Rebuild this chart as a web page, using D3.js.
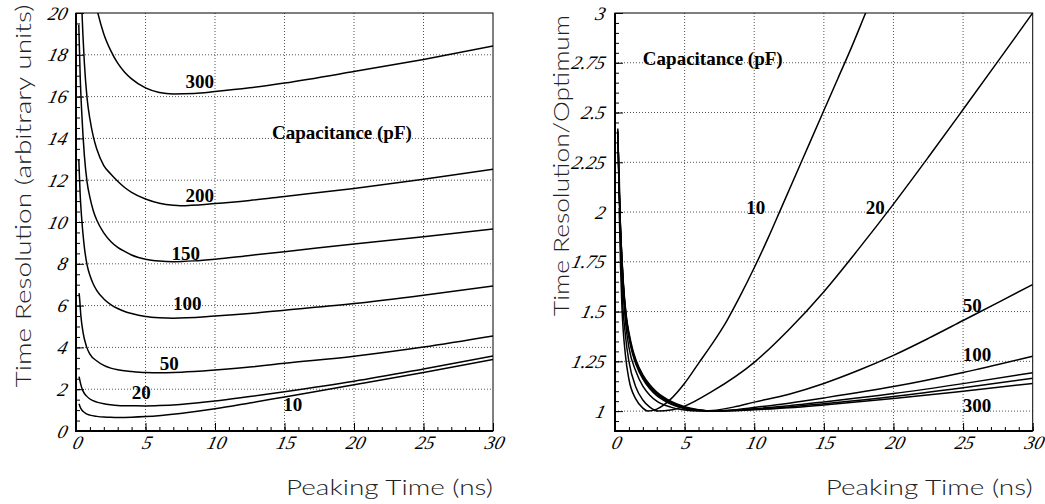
<!DOCTYPE html>
<html>
<head>
<meta charset="utf-8">
<script src="https://cdn.jsdelivr.net/npm/d3@7"></script>
<style>
  body { margin: 0; background: #fff; }
  svg { display: block; }
  .tick text { font-family: "Liberation Serif", "Times New Roman", serif; font-style: italic; font-size: 19px; fill: #000; }
  .tick line { stroke: #000; stroke-width: 1; }
  .grid line { stroke: #555; stroke-width: 1; stroke-dasharray: 1,2; }
  .curve { fill: none; stroke: #000; stroke-width: 1.5; }
  .lbl { font-family: "Liberation Serif", "Times New Roman", serif; font-weight: bold; font-size: 19px; fill: #000; }
  .title { font-family: Lato, "Open Sans", sans-serif; font-weight: 300; font-size: 22px; fill: #222; }
</style>
</head>
<body>
<div id="chart"></div>
<script>
// peaking time ticks (ns)
const xMajor = [0, 5, 10, 15, 20, 25, 30];
const xMinor = d3.range(0, 31, 1);

// left panel: time resolution (arbitrary units), one array per capacitance
const abs10  = [[0.22,1.3],[0.3,1.15],[0.4,1.02],[0.5,0.94],[0.75,0.82],[1,0.76],[1.5,0.7],[2,0.665],[2.5,0.652],[3,0.65],[4,0.66],[5,0.69],[7.5,0.84],[10,1.06],[12.5,1.34],[15,1.63],[20,2.21],[25,2.8],[30,3.42]];
const abs20  = [[0.22,2.6],[0.3,2.35],[0.4,2.1],[0.5,1.92],[0.75,1.68],[1,1.53],[1.5,1.38],[2,1.3],[2.5,1.255],[3,1.225],[4,1.205],[5,1.2],[6,1.215],[7.5,1.27],[10,1.43],[12.5,1.65],[15,1.88],[20,2.38],[25,2.97],[30,3.59]];
const abs50  = [[0.22,6.6],[0.25,6.42],[0.35,5.52],[0.5,4.74],[0.75,4.05],[1,3.68],[1.5,3.35],[2,3.14],[2.5,3.01],[3,2.93],[4,2.85],[5,2.8],[6,2.79],[7,2.8],[8.5,2.85],[10,2.92],[12.5,3.06],[15,3.24],[20,3.58],[25,4.02],[30,4.55]];
const abs100 = [[0.2,13.0],[0.3,11.3],[0.4,10.25],[0.5,9.45],[0.6,8.8],[0.8,7.94],[1,7.45],[1.25,7.02],[1.5,6.72],[2,6.32],[2.5,6.05],[3,5.86],[3.5,5.72],[4,5.62],[5,5.48],[6,5.42],[7,5.4],[10,5.5],[12.5,5.62],[15,5.78],[20,6.1],[25,6.5],[30,6.94]];
const abs150 = [[0.2,19.44],[0.3,17.0],[0.4,15.4],[0.5,14.18],[0.6,13.2],[0.8,11.9],[1,11.18],[1.25,10.53],[1.5,10.08],[2,9.48],[2.5,9.07],[3,8.79],[3.5,8.59],[4,8.42],[5,8.22],[6,8.13],[7,8.1],[8.5,8.14],[10,8.22],[12.5,8.4],[15,8.58],[20,8.95],[25,9.3],[30,9.66]];
const abs200 = [[0.4,20.5],[0.5,18.92],[0.6,17.63],[0.8,15.9],[1,14.93],[1.25,14.07],[1.5,13.48],[2,12.7],[2.5,12.3],[3,11.95],[3.5,11.65],[4,11.42],[5,11.1],[6,10.9],[7,10.8],[7.5,10.78],[10,10.88],[12.5,11.03],[15,11.22],[20,11.6],[25,12.04],[30,12.52]];
const abs300 = [[1.4,20.5],[1.5,20.2],[2,19.0],[2.5,18.2],[3,17.6],[3.5,17.17],[4,16.85],[5,16.42],[6,16.2],[7,16.13],[8.5,16.15],[10,16.24],[12.5,16.42],[15,16.65],[20,17.2],[25,17.78],[30,18.42]];

// right panel: time resolution / optimum
const rel10  = [[0.3,2.02],[0.4,1.72],[0.5,1.52],[0.75,1.28],[1,1.16],[1.5,1.06],[2,1.015],[2.4,1.0],[3,1.01],[4,1.06],[5,1.14],[6,1.24],[7,1.34],[8,1.45],[9,1.58],[10,1.72],[11,1.87],[12,2.03],[13,2.19],[14,2.35],[15,2.51],[16,2.67],[17,2.83],[18,3.0],[19,3.17]];
const rel20  = [[0.3,2.2],[0.4,1.85],[0.5,1.62],[0.75,1.38],[1,1.25],[1.5,1.12],[2,1.056],[2.5,1.02],[3.1,1.0],[4,1.005],[5,1.025],[7,1.1],[10,1.245],[12.5,1.41],[15,1.6],[17.5,1.815],[20,2.04],[22.5,2.275],[25,2.515],[27.5,2.757],[30,3.0]];
const rel50  = [[0.25,2.3],[0.35,1.98],[0.5,1.7],[0.75,1.45],[1,1.32],[1.5,1.2],[2,1.125],[2.5,1.08],[3,1.05],[4,1.02],[5,1.005],[6,1.0],[7,1.003],[8.5,1.02],[10,1.045],[12.5,1.085],[15,1.139],[17.5,1.205],[20,1.28],[22.5,1.365],[25,1.455],[27.5,1.545],[30,1.636]];
const rel100 = [[0.2,2.39],[0.3,2.09],[0.4,1.89],[0.5,1.74],[0.6,1.62],[0.8,1.46],[1,1.37],[1.25,1.29],[1.5,1.236],[2,1.162],[2.5,1.112],[3,1.078],[3.5,1.054],[4,1.035],[5,1.012],[6,1.003],[7,1.0],[8.5,1.006],[10,1.018],[12.5,1.04],[15,1.066],[20,1.123],[25,1.194],[30,1.276]];
const rel150 = [[0.2,2.4],[0.3,2.1],[0.4,1.9],[0.5,1.75],[0.6,1.63],[0.8,1.47],[1,1.38],[1.25,1.3],[1.5,1.245],[2,1.17],[2.5,1.12],[3,1.085],[3.5,1.06],[4,1.04],[5,1.015],[6,1.004],[7,1.0],[8.5,1.004],[10,1.012],[12.5,1.027],[15,1.046],[20,1.088],[25,1.138],[30,1.193]];
const rel200 = [[0.2,2.41],[0.3,2.11],[0.4,1.905],[0.5,1.755],[0.6,1.635],[0.8,1.475],[1,1.385],[1.25,1.305],[1.5,1.25],[2,1.175],[2.5,1.125],[3,1.09],[3.5,1.065],[4,1.045],[5,1.018],[6,1.005],[7,1.0],[8.5,1.003],[10,1.009],[12.5,1.021],[15,1.037],[20,1.073],[25,1.117],[30,1.165]];
const rel300 = [[0.2,2.42],[0.3,2.12],[0.4,1.915],[0.5,1.765],[0.6,1.645],[0.8,1.485],[1,1.395],[1.25,1.315],[1.5,1.258],[2,1.182],[2.5,1.132],[3,1.096],[3.5,1.07],[4,1.05],[5,1.022],[6,1.007],[7,1.0],[8.5,1.002],[10,1.007],[12.5,1.017],[15,1.031],[20,1.063],[25,1.1],[30,1.139]];

// curve labels: [text, x, y] in data units
const absLabels = [["300",8.9,16.7],["200",8.9,11.29],["150",7.9,8.47],["100",8.0,6.12],["50",6.7,3.25],["20",4.7,1.82],["10",15.6,1.29]];
const relLabels = [["10",10.1,2.025],["20",18.7,2.025],["50",25.65,1.533],["100",26.0,1.282],["300",26.0,1.03]];

const W = 1045, H = 504;
const svg = d3.select("#chart").append("svg").attr("width", W).attr("height", H);

// slant the tick numbers around their own baseline
const slant = Math.tan(14 * Math.PI / 180);
function italicize(sel, base) {
  sel.selectAll(".tick text")
    .attr("font-style", "normal")
    .attr("transform", `translate(${slant * base},0) skewX(-14)`);
}

function panel(cfg) {
  const x = d3.scaleLinear().domain([0, 30]).range([cfg.x0, cfg.x1]);
  const y = d3.scaleLinear().domain(cfg.yDomain).range([431, 13]);
  const g = svg.append("g");

  // dotted grid
  const grid = g.append("g").attr("class", "grid");
  grid.selectAll(".gx").data(xMajor.slice(1, -1)).join("line")
    .attr("x1", d => x(d)).attr("x2", d => x(d)).attr("y1", y.range()[0]).attr("y2", y.range()[1]);
  grid.selectAll(".gy").data(cfg.yGrid).join("line")
    .attr("x1", x.range()[0]).attr("x2", x.range()[1]).attr("y1", d => y(d)).attr("y2", d => y(d));

  // ticks inside the frame
  g.append("g").attr("transform", `translate(0,${y.range()[0]})`)
    .call(d3.axisBottom(x).tickValues(xMinor).tickSizeInner(-4).tickSizeOuter(0).tickFormat(""))
    .call(a => a.select(".domain").remove());
  g.append("g").attr("transform", `translate(0,${y.range()[0]})`)
    .call(d3.axisBottom(x).tickValues(xMajor).tickSizeInner(-8).tickSizeOuter(0).tickPadding(5).tickFormat(d => String(d)))
    .call(a => a.select(".domain").remove())
    .call(a => italicize(a, 5 + 0.71 * 19));
  g.append("g").attr("transform", `translate(${x.range()[0]},0)`)
    .call(d3.axisLeft(y).tickValues(cfg.yMinor).tickSizeInner(-4).tickSizeOuter(0).tickFormat(""))
    .call(a => a.select(".domain").remove());
  g.append("g").attr("transform", `translate(${x.range()[0]},0)`)
    .call(d3.axisLeft(y).tickValues(cfg.yMajor).tickSizeInner(-8).tickSizeOuter(0).tickPadding(cfg.yPad).tickFormat(d => String(d)))
    .call(a => a.select(".domain").remove())
    .call(a => italicize(a, 0.32 * 19));

  // curves, clipped to the frame
  svg.append("clipPath").attr("id", cfg.id).append("rect")
    .attr("x", x.range()[0]).attr("y", y.range()[1])
    .attr("width", x.range()[1] - x.range()[0]).attr("height", y.range()[0] - y.range()[1]);
  const line = d3.line().x(d => x(d[0])).y(d => y(d[1])).curve(d3.curveMonotoneX);
  g.append("g").attr("clip-path", `url(#${cfg.id})`)
    .selectAll("path").data(cfg.series).join("path")
    .attr("class", "curve").attr("d", line);

  // frame
  g.append("rect").attr("x", x.range()[0]).attr("y", y.range()[1])
    .attr("width", x.range()[1] - x.range()[0]).attr("height", y.range()[0] - y.range()[1])
    .attr("fill", "none").attr("stroke", "#000").attr("stroke-width", 1);
  g.append("path")
    .attr("d", `M${x.range()[0]},${y.range()[1]}V${y.range()[0]}H${x.range()[1]}`)
    .attr("fill", "none").attr("stroke", "#000").attr("stroke-width", 2);

  // curve labels
  g.selectAll(".lbl").data(cfg.labels).join("text")
    .attr("class", "lbl").attr("x", d => x(d[1])).attr("y", d => y(d[2]))
    .attr("text-anchor", "middle").attr("dominant-baseline", "central").text(d => d[0]);
  g.append("text").attr("class", "lbl")
    .attr("x", x(cfg.capPos[0])).attr("y", y(cfg.capPos[1]))
    .attr("dominant-baseline", "central").text("Capacitance (pF)");

  // axis titles
  g.append("text").attr("class", "title")
    .attr("x", x.range()[1]).attr("y", 495).attr("text-anchor", "end")
    .attr("textLength", 207).attr("lengthAdjust", "spacingAndGlyphs")
    .text("Peaking Time (ns)");
  g.append("text").attr("class", "title")
    .attr("transform", `translate(${cfg.titleX},${cfg.titleY}) rotate(-90)`)
    .attr("text-anchor", "middle")
    .attr("textLength", cfg.titleLen).attr("lengthAdjust", "spacingAndGlyphs")
    .text(cfg.title);
}

panel({
  id: "clipL", x0: 76, x1: 493, yDomain: [0, 20],
  yMajor: d3.range(0, 21, 2), yMinor: d3.range(0, 20.01, 0.5), yGrid: d3.range(2, 19, 2), yPad: 10,
  series: [abs10, abs20, abs50, abs100, abs150, abs200, abs300],
  labels: absLabels, capPos: [14.1, 14.26],
  title: "Time Resolution (arbitrary units)", titleX: 31, titleY: 196, titleLen: 383
});

panel({
  id: "clipR", x0: 615, x1: 1032.7, yDomain: [0.9, 3],
  yMajor: [1, 1.25, 1.5, 1.75, 2, 2.25, 2.5, 2.75, 3], yMinor: d3.range(0.95, 3.001, 0.05), yGrid: [1, 1.25, 1.5, 1.75, 2, 2.25, 2.5, 2.75], yPad: 11,
  series: [rel10, rel20, rel50, rel100, rel150, rel200, rel300],
  labels: relLabels, capPos: [2.0, 2.772],
  title: "Time Resolution/Optimum", titleX: 569, titleY: 165.5, titleLen: 301
});
</script>
</body>
</html>
